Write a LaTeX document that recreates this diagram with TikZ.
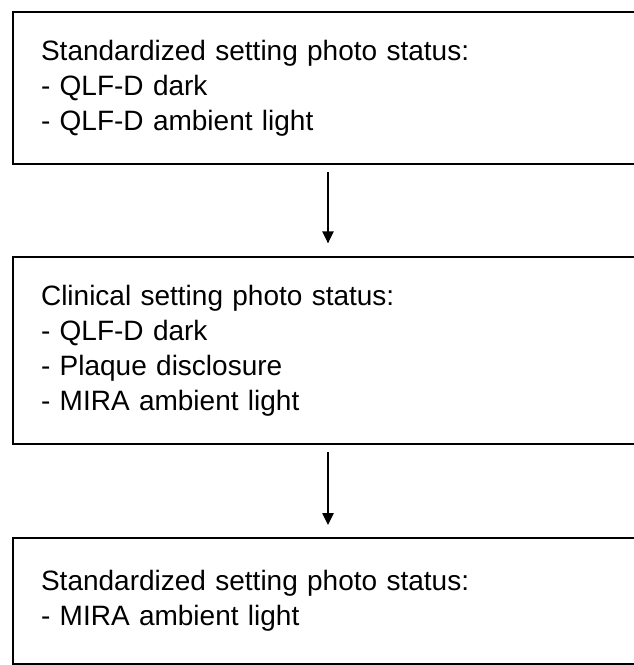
\documentclass[tikz,border=0pt]{standalone}
\usepackage{fontspec}
\setmainfont{Liberation Sans}
\usetikzlibrary{arrows.meta,positioning}

\tikzset{
  stagebox/.style={draw, line width=1.6pt, anchor=north west, align=left,
    text width=438pt, inner xsep=21pt, inner ysep=0pt,
    font=\fontsize{21}{26.25}\selectfont},
  flow/.style={-{Triangle[width=8.5pt,length=9pt]}, line width=1.1pt}
}

\begin{document}
\begin{tikzpicture}[x=0.75pt,y=-0.75pt]
  \useasboundingbox (0,0) rectangle (633,665);

  % Boxes
  \node[stagebox, minimum height=114pt] (std1) at (12,11)
    {Standardized setting photo status:\\
     - QLF-D dark\\
     - QLF-D ambient light};
  \node[stagebox, minimum height=140.25pt] (clin) at (12,256)
    {Clinical setting photo status:\\
     - QLF-D dark\\
     - Plaque disclosure\\
     - MIRA ambient light};
  \node[stagebox, minimum height=94.5pt] (std2) at (12,537)
    {Standardized setting photo status:\\
     - MIRA ambient light};

  % Arrows
  \draw[flow, shorten <=5pt, shorten >=9.5pt] (std1.south -| 328,0) -- (clin.north -| 328,0);
  \draw[flow, shorten <=5pt, shorten >=9pt] (clin.south -| 328,0) -- (std2.north -| 328,0);
\end{tikzpicture}
\end{document}
